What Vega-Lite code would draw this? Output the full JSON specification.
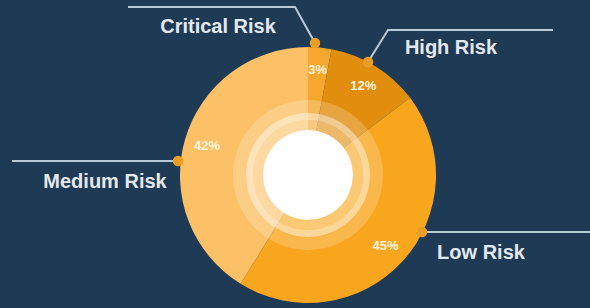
{
  "$schema": "https://vega.github.io/schema/vega-lite/v6.json",
  "width": 564,
  "height": 266,
  "autosize": "none",
  "padding": {"left": 26, "top": 42, "right": 0, "bottom": 0},
  "background": "#1e3a54",
  "config": {"view": {"stroke": null}},
  "datasets": {
    "slices": [
      {"risk": "Critical Risk", "value": 3, "label": "3%", "rank": 1},
      {"risk": "High Risk", "value": 12, "label": "12%", "rank": 2},
      {"risk": "Low Risk", "value": 45, "label": "45%", "rank": 3},
      {"risk": "Medium Risk", "value": 42, "label": "42%", "rank": 4}
    ],
    "leaders": [
      {"risk": "Critical Risk", "pt": 1, "x": 7, "y": 132},
      {"risk": "Critical Risk", "pt": 2, "x": -13, "y": 168},
      {"risk": "Critical Risk", "pt": 3, "x": -180, "y": 168},
      {"risk": "High Risk", "pt": 1, "x": 60, "y": 113},
      {"risk": "High Risk", "pt": 2, "x": 80, "y": 145},
      {"risk": "High Risk", "pt": 3, "x": 245, "y": 145},
      {"risk": "Medium Risk", "pt": 1, "x": -130, "y": 14},
      {"risk": "Medium Risk", "pt": 2, "x": -296, "y": 14},
      {"risk": "Low Risk", "pt": 1, "x": 114, "y": -57},
      {"risk": "Low Risk", "pt": 2, "x": 290, "y": -57}
    ],
    "callouts": [
      {"risk": "Critical Risk", "mx": 7, "my": 132, "tx": -90, "ty": 148},
      {"risk": "High Risk", "mx": 60, "my": 113, "tx": 143, "ty": 127},
      {"risk": "Medium Risk", "mx": -130, "my": 14, "tx": -203, "ty": -7},
      {"risk": "Low Risk", "mx": 114, "my": -57, "tx": 173, "ty": -78}
    ]
  },
  "layer": [
    {
      "data": {"name": "slices"},
      "mark": {"type": "arc", "outerRadius": 128},
      "encoding": {
        "theta": {"field": "value", "type": "quantitative", "stack": true},
        "order": {"field": "rank", "type": "quantitative"},
        "color": {
          "field": "risk",
          "type": "nominal",
          "scale": {
            "domain": ["Critical Risk", "High Risk", "Low Risk", "Medium Risk"],
            "range": ["#f6a82e", "#e18e0f", "#f9a61f", "#fcc166"]
          },
          "legend": null
        }
      }
    },
    {
      "data": {"values": [{"ring": "glow"}]},
      "mark": {"type": "arc", "theta": 0, "theta2": 6.2832, "innerRadius": 62, "outerRadius": 75, "fill": "#ffffff", "fillOpacity": 0.2},
      "encoding": {}
    },
    {
      "data": {"values": [{"ring": "bright"}]},
      "mark": {"type": "arc", "theta": 0, "theta2": 6.2832, "innerRadius": 55, "outerRadius": 62, "fill": "#ffffff", "fillOpacity": 0.55},
      "encoding": {}
    },
    {
      "data": {"values": [{"ring": "cream"}]},
      "mark": {"type": "arc", "theta": 0, "theta2": 6.2832, "innerRadius": 45, "outerRadius": 55, "fill": "#ffffff", "fillOpacity": 0.38},
      "encoding": {}
    },
    {
      "data": {"values": [{"ring": "core"}]},
      "mark": {"type": "arc", "theta": 0, "theta2": 6.2832, "innerRadius": 0, "outerRadius": 45, "fill": "#fefefe", "fillOpacity": 1},
      "encoding": {}
    },
    {
      "data": {"name": "slices"},
      "mark": {"type": "text", "radius": 105, "fontSize": 13, "fontWeight": "bold", "font": "Liberation Sans", "fill": "#fff3dd"},
      "encoding": {
        "theta": {"field": "value", "type": "quantitative", "stack": true},
        "order": {"field": "rank", "type": "quantitative"},
        "text": {"field": "label", "type": "nominal"}
      }
    },
    {
      "data": {"name": "leaders"},
      "mark": {"type": "line", "stroke": "#b9cadb", "strokeWidth": 2},
      "encoding": {
        "x": {"field": "x", "type": "quantitative", "scale": {"domain": [-282, 282], "nice": false, "zero": false}, "axis": null},
        "y": {"field": "y", "type": "quantitative", "scale": {"domain": [-133, 133], "nice": false, "zero": false}, "axis": null},
        "detail": {"field": "risk", "type": "nominal"},
        "order": {"field": "pt", "type": "quantitative"}
      }
    },
    {
      "data": {"name": "callouts"},
      "mark": {"type": "point", "filled": true, "size": 110, "color": "#ec9e24", "opacity": 1},
      "encoding": {
        "x": {"field": "mx", "type": "quantitative"},
        "y": {"field": "my", "type": "quantitative"}
      }
    },
    {
      "data": {"name": "callouts"},
      "mark": {"type": "text", "fontSize": 20, "fontWeight": "bold", "font": "Liberation Sans", "fill": "#e3e9ef", "align": "center", "baseline": "middle"},
      "encoding": {
        "x": {"field": "tx", "type": "quantitative"},
        "y": {"field": "ty", "type": "quantitative"},
        "text": {"field": "risk", "type": "nominal"}
      }
    }
  ]
}
